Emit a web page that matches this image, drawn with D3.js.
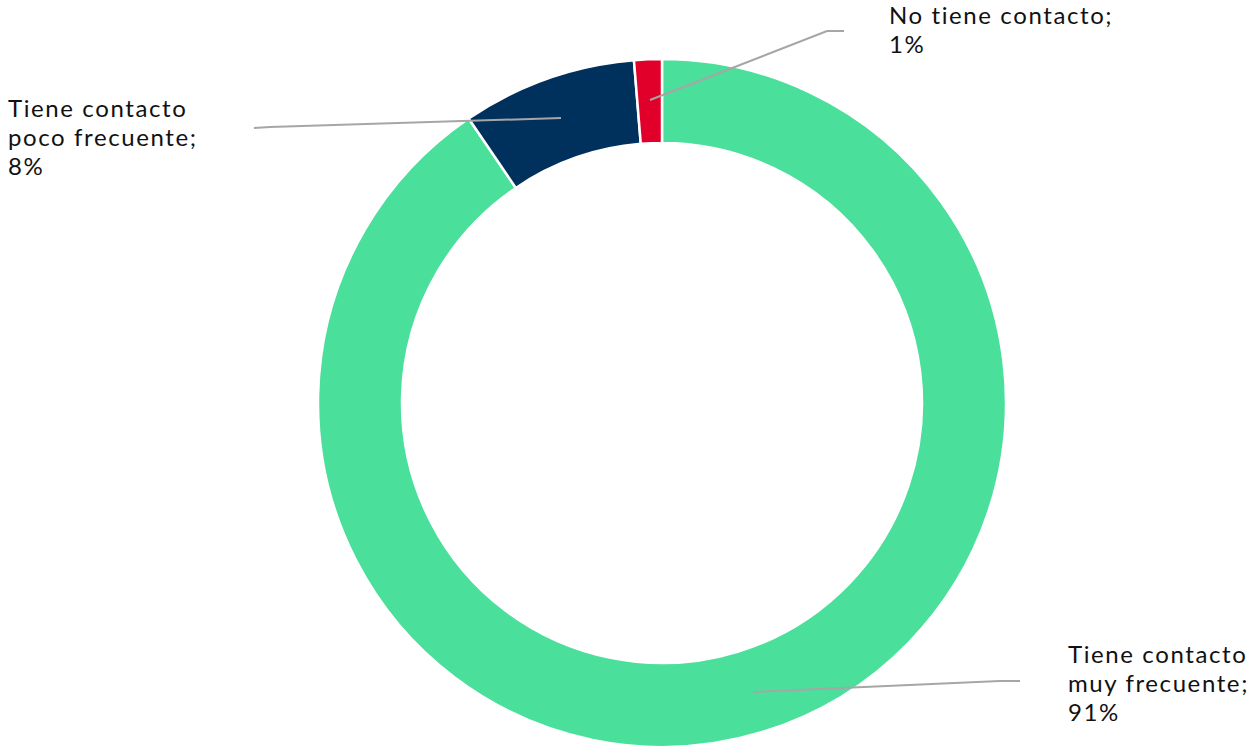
<!DOCTYPE html>
<html><head><meta charset="utf-8">
<script src="https://cdn.jsdelivr.net/npm/d3@7"></script>
<style>html,body{margin:0;padding:0;background:#fff;}svg{display:block;}</style>
</head><body>
<script>
const categories = ["Tiene contacto muy frecuente", "Tiene contacto poco frecuente", "No tiene contacto"];
const values = [90.5, 8.2, 1.3];
const labelTexts = ["91%", "8%", "1%"];
const colors = ["#4ADF9A", "#00305C", "#E1002A"];

const W = 1256, H = 749;
const cx = 662, cy = 403, R = 344, r0 = 260;
const svg = d3.select("body").append("svg").attr("width", W).attr("height", H);
const g = svg.append("g").attr("transform", `translate(${cx},${cy})`);

const pie = d3.pie().sort(null).value(d => d.v);
const data = categories.map((c, i) => ({c, v: values[i], col: colors[i], lab: labelTexts[i]}));
const arcs = pie(data);
const arc = d3.arc().innerRadius(r0).outerRadius(R);
g.selectAll("path.slice").data(arcs).enter().append("path")
  .attr("d", arc).attr("fill", d => d.data.col)
  .attr("stroke", "#fff").attr("stroke-width", 2.5);

const layout = [
  {start: [753-cx, 692-cy], pts: [[1000-cx, 681-cy], [1020-cx, 681-cy]], x: 1068, y: 663, lines: ["Tiene contacto", "muy frecuente;"]},
  {start: [561-cx, 118-cy], pts: [[270-cx, 127-cy], [254-cx, 128-cy]], x: 8, y: 117, lines: ["Tiene contacto", "poco frecuente;"]},
  {start: [650-cx, 100-cy], pts: [[827-cx, 31-cy], [844-cx, 31-cy]], x: 889, y: 24, lines: ["No tiene contacto;"]}
];
const line = d3.line();
arcs.forEach((a, i) => {
  const L = layout[i];
  g.append("path").attr("d", line([L.start, ...L.pts]))
    .attr("fill", "none").attr("stroke", "#A6A6A6").attr("stroke-width", 2);
  const all = [...L.lines, a.data.lab];
  all.forEach((s, k) => {
    svg.append("text").attr("x", L.x).attr("y", L.y + k * 29)
      .attr("font-family", "Lato, sans-serif").attr("font-size", 24)
      .attr("letter-spacing", 1.6).attr("fill", "#111").text(s);
  });
});
</script>
</body></html>
